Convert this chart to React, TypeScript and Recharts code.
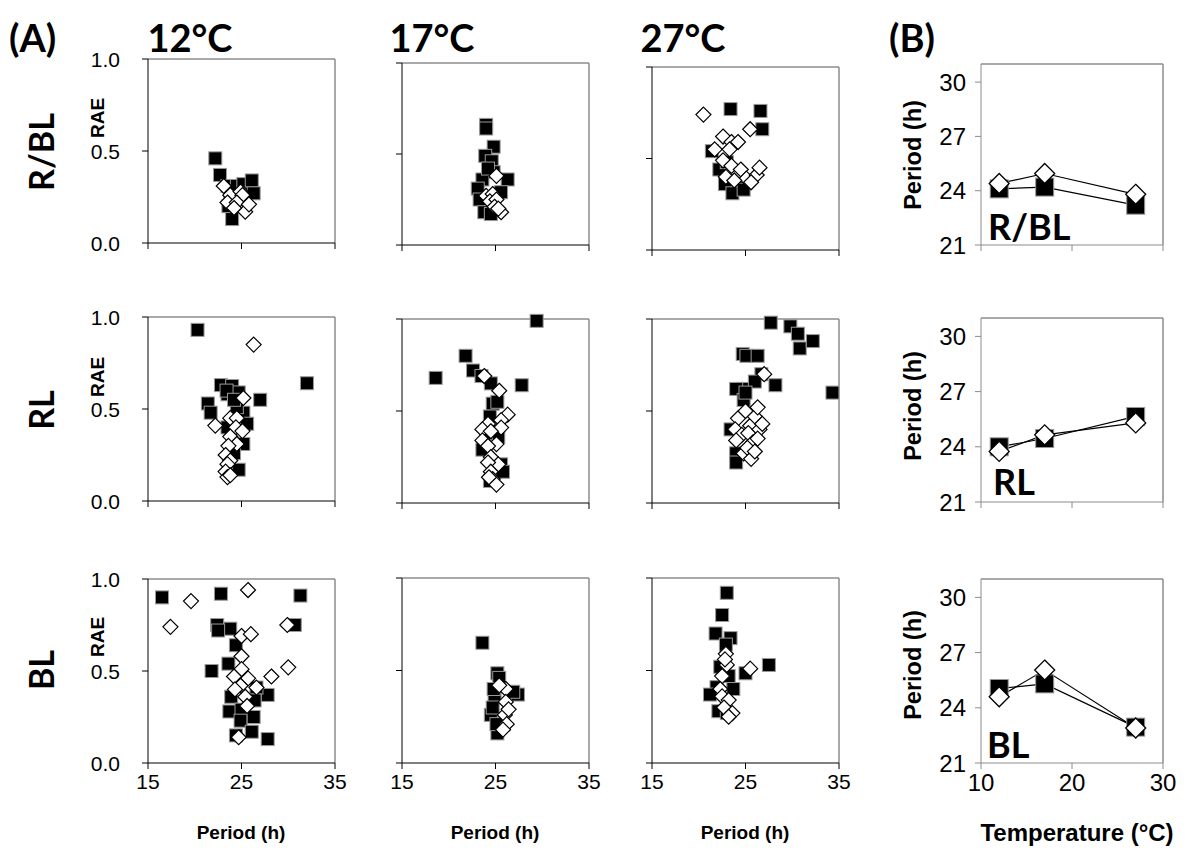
import React from "react";
import { ScatterChart, Scatter, XAxis, YAxis, ReferenceLine, LineChart, Line } from "recharts";

// RAE vs period, [period (h), RAE]; filled = black squares, open = white diamonds
const rbl12Filled = [[22.2, 0.46], [22.7, 0.37], [23.5, 0.31], [23.8, 0.27], [24.5, 0.31], [25.2, 0.32], [26.1, 0.34], [26.3, 0.27], [23.6, 0.2], [24.0, 0.13], [24.8, 0.25]];
const rbl12Open = [[23.1, 0.31], [23.8, 0.26], [23.5, 0.22], [24.9, 0.28], [25.1, 0.26], [24.5, 0.22], [25.4, 0.17], [25.8, 0.21], [24.2, 0.19]];
const rbl17Filled = [[24.0, 0.66], [24.0, 0.64], [24.8, 0.54], [23.9, 0.49], [24.6, 0.46], [24.8, 0.4], [26.3, 0.36], [23.6, 0.36], [23.1, 0.31], [25.6, 0.29], [23.3, 0.25], [23.8, 0.18], [24.5, 0.17], [24.2, 0.42]];
const rbl17Open = [[25.1, 0.38], [24.0, 0.27], [24.7, 0.28], [24.4, 0.24], [25.1, 0.25], [24.9, 0.21], [25.6, 0.18], [25.3, 0.2]];
const rbl27Filled = [[23.4, 0.77], [26.6, 0.76], [26.8, 0.66], [21.4, 0.54], [22.2, 0.44], [22.8, 0.36], [24.4, 0.34], [23.0, 0.48], [23.6, 0.31], [24.8, 0.33]];
const rbl27Open = [[20.5, 0.74], [22.6, 0.62], [23.5, 0.59], [24.2, 0.59], [25.5, 0.66], [21.7, 0.55], [23.3, 0.55], [22.6, 0.49], [23.5, 0.46], [24.5, 0.44], [22.9, 0.4], [25.1, 0.39], [26.2, 0.41], [26.5, 0.45], [25.6, 0.37], [23.8, 0.38]];

const rl12Filled = [[20.3, 0.93], [32.0, 0.64], [22.8, 0.63], [24.0, 0.625], [23.5, 0.58], [24.7, 0.59], [27.0, 0.55], [21.4, 0.53], [21.7, 0.48], [25.2, 0.48], [24.5, 0.51], [25.6, 0.42], [23.5, 0.4], [25.2, 0.31], [24.7, 0.17], [24.2, 0.26], [23.4, 0.6], [24.2, 0.55]];
const rl12Open = [[26.3, 0.85], [25.2, 0.56], [22.2, 0.41], [23.8, 0.45], [24.5, 0.45], [24.4, 0.4], [25.1, 0.38], [23.8, 0.35], [24.5, 0.31], [23.6, 0.3], [23.3, 0.25], [23.8, 0.22], [23.5, 0.2], [23.3, 0.16], [23.5, 0.13], [23.8, 0.14]];
const rl17Filled = [[29.4, 0.99], [18.6, 0.68], [21.8, 0.8], [22.6, 0.72], [23.5, 0.69], [24.5, 0.65], [27.8, 0.64], [24.7, 0.54], [25.2, 0.55], [24.4, 0.47], [23.6, 0.29], [25.6, 0.21], [25.8, 0.17], [24.4, 0.12], [25.3, 0.36], [24.0, 0.38]];
const rl17Open = [[23.8, 0.69], [25.4, 0.61], [26.3, 0.48], [25.6, 0.45], [24.2, 0.43], [25.6, 0.41], [23.6, 0.4], [24.5, 0.39], [23.6, 0.34], [25.1, 0.32], [24.2, 0.31], [24.5, 0.25], [25.3, 0.21], [24.2, 0.22], [24.5, 0.17], [24.7, 0.13], [25.1, 0.1], [24.3, 0.14]];
const rl27Filled = [[27.7, 0.98], [29.8, 0.96], [30.6, 0.92], [30.8, 0.84], [32.2, 0.88], [34.3, 0.6], [28.2, 0.64], [24.7, 0.81], [25.1, 0.8], [26.3, 0.8], [26.7, 0.7], [24.7, 0.62], [24.0, 0.62], [24.8, 0.56], [23.4, 0.4], [24.0, 0.27], [24.0, 0.22], [26.0, 0.66], [25.0, 0.6]];
const rl27Open = [[24.2, 0.46], [23.9, 0.4], [24.6, 0.37], [24.8, 0.27], [24.0, 0.34], [25.5, 0.42], [26.0, 0.47], [25.3, 0.38], [26.5, 0.4], [25.8, 0.33], [25.2, 0.3], [26.3, 0.35], [26.8, 0.43], [27.0, 0.7], [26.3, 0.52], [25.6, 0.24], [26.0, 0.28], [25.0, 0.5]];

const bl12Filled = [[16.5, 0.9], [22.8, 0.92], [31.3, 0.91], [30.7, 0.75], [22.4, 0.75], [23.8, 0.73], [24.4, 0.64], [21.8, 0.5], [23.6, 0.54], [27.8, 0.37], [26.6, 0.41], [26.4, 0.34], [23.9, 0.36], [23.7, 0.28], [25.0, 0.29], [24.9, 0.23], [26.3, 0.25], [26.1, 0.17], [24.4, 0.15], [27.8, 0.13], [22.5, 0.72]];
const bl12Open = [[25.7, 0.94], [19.6, 0.88], [17.4, 0.74], [29.9, 0.75], [25.0, 0.69], [26.0, 0.7], [25.0, 0.58], [25.0, 0.51], [30.0, 0.52], [28.2, 0.47], [24.2, 0.47], [25.7, 0.46], [24.9, 0.42], [26.6, 0.41], [24.3, 0.4], [25.4, 0.36], [25.6, 0.31], [24.7, 0.14]];
const bl17Filled = [[23.6, 0.65], [25.2, 0.485], [25.4, 0.46], [27.4, 0.37], [26.9, 0.385], [24.9, 0.36], [24.5, 0.26], [25.2, 0.16], [25.1, 0.21], [24.8, 0.4], [24.7, 0.3]];
const bl17Open = [[26.1, 0.4], [25.4, 0.42], [26.1, 0.33], [26.0, 0.26], [26.2, 0.21], [25.8, 0.18], [26.4, 0.29]];
const bl27Filled = [[23.0, 0.92], [22.5, 0.8], [21.8, 0.7], [23.4, 0.675], [22.9, 0.64], [25.0, 0.485], [22.3, 0.52], [21.9, 0.41], [21.2, 0.37], [23.7, 0.4], [22.1, 0.28], [23.0, 0.27], [27.5, 0.53], [23.2, 0.47]];
const bl27Open = [[22.9, 0.59], [23.0, 0.53], [22.5, 0.47], [22.3, 0.4], [22.5, 0.36], [23.2, 0.34], [22.7, 0.3], [23.6, 0.27], [23.2, 0.25], [25.5, 0.51], [22.8, 0.56]];

// mean period vs temperature
const temps = [12, 17, 27];
const rblPeriodFilled = [24.1, 24.2, 23.2];
const rblPeriodOpen = [24.4, 24.95, 23.8];
const rlPeriodFilled = [24.0, 24.45, 25.65];
const rlPeriodOpen = [23.75, 24.65, 25.3];
const blPeriodFilled = [25.05, 25.3, 22.95];
const blPeriodOpen = [24.6, 26.05, 22.9];

const periodTicks = [15, 25, 35];
const raeTicks = [0, 0.5, 1];
const tempTicks = [10, 20, 30];
const hourTicks = [21, 24, 27, 30];

const ARIAL = "'Liberation Sans', Arial, sans-serif";
const TITLE = "Lato, 'Open Sans', sans-serif";

const toPts = (arr: number[][]) => arr.map(([x, y]) => ({ x, y }));

const square = (size: number) => (p: any) => (
  <rect x={p.cx - size / 2} y={p.cy - size / 2} width={size} height={size} fill="#000" stroke="#9a9a9a" strokeWidth={1} />
);
const diamond = (r: number) => (p: any) => (
  <polygon
    points={`${p.cx},${p.cy - r} ${p.cx + r},${p.cy} ${p.cx},${p.cy + r} ${p.cx - r},${p.cy}`}
    fill="#fff"
    stroke="#000"
    strokeWidth={1.2}
  />
);

// tick label renderers with explicit font size
const xTick = (size: number, show: boolean) => (p: any) => (
  <text x={p.x} y={p.y} dy="0.75em" textAnchor="middle" fontSize={size} fontFamily={ARIAL} fill="#000">
    {show ? String(p.payload.value) : ""}
  </text>
);
const yTick = (size: number, show: boolean, digits: number) => (p: any) => (
  <text x={p.x} y={p.y} dy="0.36em" textAnchor="end" fontSize={size} fontFamily={ARIAL} fill="#000">
    {show ? Number(p.payload.value).toFixed(digits) : ""}
  </text>
);

interface ScatterPanelProps {
  left: number;
  top: number;
  height: number;
  filled: number[][];
  open: number[][];
  yLabels?: boolean;
  xLabels?: boolean;
}

function ScatterPanel({ left, top, height, filled, open, yLabels, xLabels }: ScatterPanelProps) {
  const w = 187;
  const mL = 70, mT = 12, mR = 14, mB = 40;
  return (
    <div style={{ position: "absolute", left: left - mL, top: top - mT }}>
      <ScatterChart width={w + mL + mR} height={height + mT + mB} margin={{ top: mT, right: mR, bottom: 0, left: 0 }}>
        <XAxis
          type="number"
          dataKey="x"
          domain={[15, 35]}
          ticks={periodTicks}
          interval={0}
          height={mB}
          stroke="#000"
          tickSize={6}
          tickMargin={4}
          tick={xTick(21, !!xLabels)}
        />
        <YAxis
          type="number"
          dataKey="y"
          domain={[0, 1]}
          ticks={raeTicks}
          interval={0}
          width={mL}
          stroke="#000"
          tickSize={6}
          tickMargin={22}
          tick={yTick(21, !!yLabels, 1)}
        />
        <ReferenceLine y={1} stroke="#8c8c8c" strokeWidth={1.5} />
        <ReferenceLine x={35} stroke="#8c8c8c" strokeWidth={1.5} />
        <Scatter data={toPts(filled)} shape={square(13)} isAnimationActive={false} />
        <Scatter data={toPts(open)} shape={diamond(7.5)} isAnimationActive={false} />
      </ScatterChart>
    </div>
  );
}

interface PeriodPanelProps {
  top: number;
  height: number;
  filled: number[];
  open: number[];
  xLabels?: boolean;
}

function PeriodPanel({ top, height, filled, open, xLabels }: PeriodPanelProps) {
  const left = 981;
  const w = 182;
  const mL = 60, mT = 12, mR = 14, mB = 40;
  const data = temps.map((t, i) => ({ t, f: filled[i], o: open[i] }));
  const sq = (p: any) => <rect key={`s${p.index}`} x={p.cx - 9} y={p.cy - 9} width={18} height={18} fill="#000" stroke="#9a9a9a" strokeWidth={1} />;
  const dm = (p: any) => (
    <polygon
      key={`d${p.index}`}
      points={`${p.cx},${p.cy - 10} ${p.cx + 10},${p.cy} ${p.cx},${p.cy + 10} ${p.cx - 10},${p.cy}`}
      fill="#fff"
      stroke="#000"
      strokeWidth={1.3}
    />
  );
  return (
    <div style={{ position: "absolute", left: left - mL, top: top - mT }}>
      <LineChart width={w + mL + mR} height={height + mT + mB} data={data} margin={{ top: mT, right: mR, bottom: 0, left: 0 }}>
        <XAxis
          type="number"
          dataKey="t"
          domain={[10, 30]}
          ticks={tempTicks}
          interval={0}
          height={mB}
          stroke="#8c8c8c"
          tickSize={6}
          tickMargin={4}
          tick={xTick(24, !!xLabels)}
        />
        <YAxis
          type="number"
          domain={[21, 31]}
          ticks={hourTicks}
          interval={0}
          width={mL}
          stroke="#8c8c8c"
          tickSize={6}
          tickMargin={9}
          tick={yTick(24, true, 0)}
        />
        <ReferenceLine y={31} stroke="#8c8c8c" strokeWidth={1.5} />
        <ReferenceLine x={30} stroke="#8c8c8c" strokeWidth={1.5} />
        <Line dataKey="f" stroke="#000" strokeWidth={1.2} dot={sq} activeDot={false} isAnimationActive={false} />
        <Line dataKey="o" stroke="#000" strokeWidth={1.2} dot={dm} activeDot={false} isAnimationActive={false} />
      </LineChart>
    </div>
  );
}

const colLeft = [148, 402, 652];
const colTitles = ["12°C", "17°C", "27°C"];
const colTitleX = [190, 432, 683];
const rowNames = ["R/BL", "RL", "BL"];
const rowNameY = [152, 410, 670];
const raeY = [118, 377, 637];
const sidePeriodY = [155, 406, 665];
const insideLabelBase = [240, 495, 758];
const insideLabelX = [988, 993, 987];

export default function App() {
  return (
    <div style={{ position: "absolute", left: 0, top: 0, width: 1188, height: 850, background: "#fff", overflow: "hidden" }}>
      <ScatterPanel left={colLeft[0]} top={59} height={184} filled={rbl12Filled} open={rbl12Open} yLabels />
      <ScatterPanel left={colLeft[1]} top={63} height={182} filled={rbl17Filled} open={rbl17Open} />
      <ScatterPanel left={colLeft[2]} top={67} height={183} filled={rbl27Filled} open={rbl27Open} />

      <ScatterPanel left={colLeft[0]} top={317} height={184} filled={rl12Filled} open={rl12Open} yLabels />
      <ScatterPanel left={colLeft[1]} top={319} height={184} filled={rl17Filled} open={rl17Open} />
      <ScatterPanel left={colLeft[2]} top={319} height={184} filled={rl27Filled} open={rl27Open} />

      <ScatterPanel left={colLeft[0]} top={579} height={184} filled={bl12Filled} open={bl12Open} yLabels xLabels />
      <ScatterPanel left={colLeft[1]} top={578} height={185} filled={bl17Filled} open={bl17Open} xLabels />
      <ScatterPanel left={colLeft[2]} top={578} height={185} filled={bl27Filled} open={bl27Open} xLabels />

      <PeriodPanel top={64} height={181} filled={rblPeriodFilled} open={rblPeriodOpen} />
      <PeriodPanel top={318} height={184} filled={rlPeriodFilled} open={rlPeriodOpen} />
      <PeriodPanel top={579} height={184} filled={blPeriodFilled} open={blPeriodOpen} xLabels />

      <svg width={1188} height={850} style={{ position: "absolute", left: 0, top: 0, pointerEvents: "none" }}>
        <text x={9} y={52} fontFamily={TITLE} fontWeight={700} fontSize={38} fill="#000">(A)</text>
        <text x={889} y={52} fontFamily={TITLE} fontWeight={700} fontSize={38} fill="#000">(B)</text>
        {colTitles.map((t, i) => (
          <text key={t} x={colTitleX[i]} y={52} textAnchor="middle" fontFamily={TITLE} fontWeight={700} fontSize={38} fill="#000">{t}</text>
        ))}
        {rowNames.map((t, i) => (
          <text key={t} x={0} y={0} transform={`translate(${54},${rowNameY[i]}) rotate(-90)`} textAnchor="middle" fontFamily={TITLE} fontWeight={700} fontSize={34} fill="#000">{t}</text>
        ))}
        {raeY.map((y, i) => (
          <text key={i} x={0} y={0} transform={`translate(${104},${y}) rotate(-90)`} textAnchor="middle" fontFamily={ARIAL} fontWeight={700} fontSize={19} fill="#000">RAE</text>
        ))}
        {colLeft.map((l, i) => (
          <text key={i} x={l + 93} y={839} textAnchor="middle" fontFamily={ARIAL} fontWeight={700} fontSize={19} fill="#000">Period (h)</text>
        ))}
        {sidePeriodY.map((y, i) => (
          <text key={i} x={0} y={0} transform={`translate(${921},${y}) rotate(-90)`} textAnchor="middle" fontFamily={ARIAL} fontWeight={700} fontSize={23.5} fill="#000">Period (h)</text>
        ))}
        <text x={1077} y={841} textAnchor="middle" fontFamily={ARIAL} fontWeight={700} fontSize={24} fill="#000">Temperature (°C)</text>
        {rowNames.map((t, i) => (
          <text key={i} x={insideLabelX[i]} y={insideLabelBase[i]} fontFamily={TITLE} fontWeight={700} fontSize={36} fill="#000">{t}</text>
        ))}
      </svg>
    </div>
  );
}
